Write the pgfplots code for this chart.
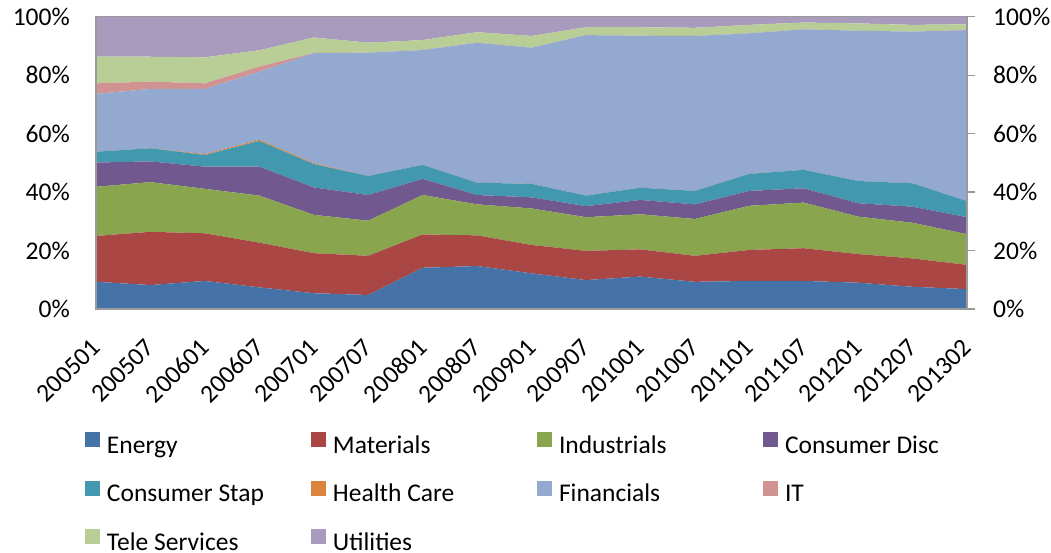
\documentclass[border=0pt]{standalone}
\usepackage{pgfplots}
\usepackage{pgfplotstable}
\pgfplotsset{compat=1.18}
\usepackage{fontspec}
\setmainfont{Carlito}

\definecolor{cE}{HTML}{4572A7}
\definecolor{cM}{HTML}{AA4643}
\definecolor{cI}{HTML}{89A54E}
\definecolor{cCD}{HTML}{71588F}
\definecolor{cCS}{HTML}{4198AF}
\definecolor{cHC}{HTML}{DB843D}
\definecolor{cF}{HTML}{93A9CF}
\definecolor{cIT}{HTML}{D19392}
\definecolor{cT}{HTML}{B9CD96}
\definecolor{cU}{HTML}{A99BBD}
\definecolor{axgray}{HTML}{9A9A9A}

\pgfplotstableread{
x E M I CD CS HC F IT T U
0 9.3 15.7 16.8 8.3 3.7 0 19.8 3.6 9.1 13.7
1 8.2 18.2 17.0 7.1 4.5 0 20.3 2.5 8.5 13.7
2 9.6 16.3 15.2 7.6 4.0 0.3 22.3 1.9 8.9 13.9
3 7.4 15.3 16.1 9.9 8.8 0.4 23.3 1.7 5.6 11.5
4 5.4 13.7 13.1 9.4 8.0 0.3 37.6 0.1 5.3 7.1
5 4.8 13.4 12.0 8.8 6.5 0 42.2 0 3.4 8.9
6 14.1 11.4 13.5 5.5 4.8 0 39.3 0 3.4 8.0
7 14.7 10.5 10.6 3.2 4.2 0 47.9 0 3.6 5.3
8 12.2 9.7 12.5 3.8 4.6 0 46.6 0 4.0 6.6
9 9.9 10.0 11.5 3.8 3.6 0 54.9 0 2.7 3.6
10 11.1 9.3 12.0 4.9 4.2 0 52.0 0 2.9 3.6
11 9.3 8.9 12.6 5.0 4.6 0 53.0 0 2.8 3.8
12 9.6 10.6 15.1 5.1 5.8 0 48.1 0 2.9 2.8
13 9.6 11.2 15.6 4.9 6.3 0 48.1 0 2.3 2.0
14 9.0 9.8 12.8 4.6 7.6 0 51.4 0 2.5 2.3
15 7.6 9.7 12.2 5.5 8.0 0 51.9 0 2.3 2.8
16 6.8 8.3 10.5 5.8 5.5 0 58.5 0.2 1.8 2.6
}\data

\newcommand{\lgd}[1]{\makebox[204pt][l]{#1}}

\begin{document}
\begin{tikzpicture}
\useasboundingbox (-96pt,-243pt) rectangle (955pt,309pt);
\begin{axis}[
  width=871pt, height=292.3pt, scale only axis,
  xmin=0, xmax=16, ymin=0, ymax=100,
  stack plots=y, area style,
  axis on top,
  axis line style={draw=axgray, line width=1.2pt},
  xtick={0,...,16},
  xticklabels={200501,200507,200601,200607,200701,200707,200801,200807,200901,200907,201001,201007,201101,201107,201201,201207,201302},
  ytick={0,20,...,100},
  yticklabel={\pgfmathprintnumber{\tick}\%},
  ytick pos=left, xtick pos=bottom,
  major tick length=0pt,
  /pgf/number format/assume math mode=true,
  tick label style={font=\fontsize{25.5}{30}\selectfont},
  yticklabel style={inner sep=0pt, xshift=-26pt},
  xticklabel style={rotate=45, anchor=east, inner sep=0pt},
  xticklabel shift=34pt,
  legend columns=4,
  legend image code/.code={\fill[#1] (0pt,0pt) rectangle (15pt,15pt);},
  legend style={
    at={(axis description cs:0,0)}, anchor=north west,
    xshift=-11pt, yshift=-123pt,
    draw=none, fill=none, inner sep=0pt, outer sep=0pt,
    column sep=0pt, row sep=22.5pt,
    font=\fontsize{25.5}{30}\selectfont,
    nodes={inner sep=0pt, text height=17pt, text depth=5pt},
    /tikz/every odd column/.append style={column sep=7pt},
  },
  legend cell align=left,
]
\addplot[fill=cE, draw=none] table[x=x,y=E]{\data} \closedcycle;
\addlegendentry{\lgd{Energy}}
\addplot[fill=cM, draw=none] table[x=x,y=M]{\data} \closedcycle;
\addlegendentry{\lgd{Materials}}
\addplot[fill=cI, draw=none] table[x=x,y=I]{\data} \closedcycle;
\addlegendentry{\lgd{Industrials}}
\addplot[fill=cCD, draw=none] table[x=x,y=CD]{\data} \closedcycle;
\addlegendentry{\lgd{Consumer Disc}}
\addplot[fill=cCS, draw=none] table[x=x,y=CS]{\data} \closedcycle;
\addlegendentry{\lgd{Consumer Stap}}
\addplot[fill=cHC, draw=none] table[x=x,y=HC]{\data} \closedcycle;
\addlegendentry{\lgd{Health Care}}
\addplot[fill=cF, draw=none] table[x=x,y=F]{\data} \closedcycle;
\addlegendentry{\lgd{Financials}}
\addplot[fill=cIT, draw=none] table[x=x,y=IT]{\data} \closedcycle;
\addlegendentry{\lgd{IT}}
\addplot[fill=cT, draw=none] table[x=x,y=T]{\data} \closedcycle;
\addlegendentry{\lgd{Tele Services}}
\addplot[fill=cU, draw=none] table[x=x,y=U]{\data} \closedcycle;
\addlegendentry{\lgd{Utilities}}
\end{axis}
\begin{axis}[
  width=871pt, height=292.3pt, scale only axis,
  xmin=0, xmax=16, ymin=0, ymax=100,
  axis x line=none, axis y line*=right,
  y axis line style={draw=axgray, line width=1.2pt},
  ytick={0,20,...,100},
  yticklabel={\pgfmathprintnumber{\tick}\%},
  tick align=outside, major tick length=8pt,
  major tick style={draw=axgray, line width=1.2pt},
  /pgf/number format/assume math mode=true,
  tick label style={font=\fontsize{25.5}{30}\selectfont},
  yticklabel style={inner sep=0pt, xshift=18pt},
]
\end{axis}
\end{tikzpicture}
\end{document}
